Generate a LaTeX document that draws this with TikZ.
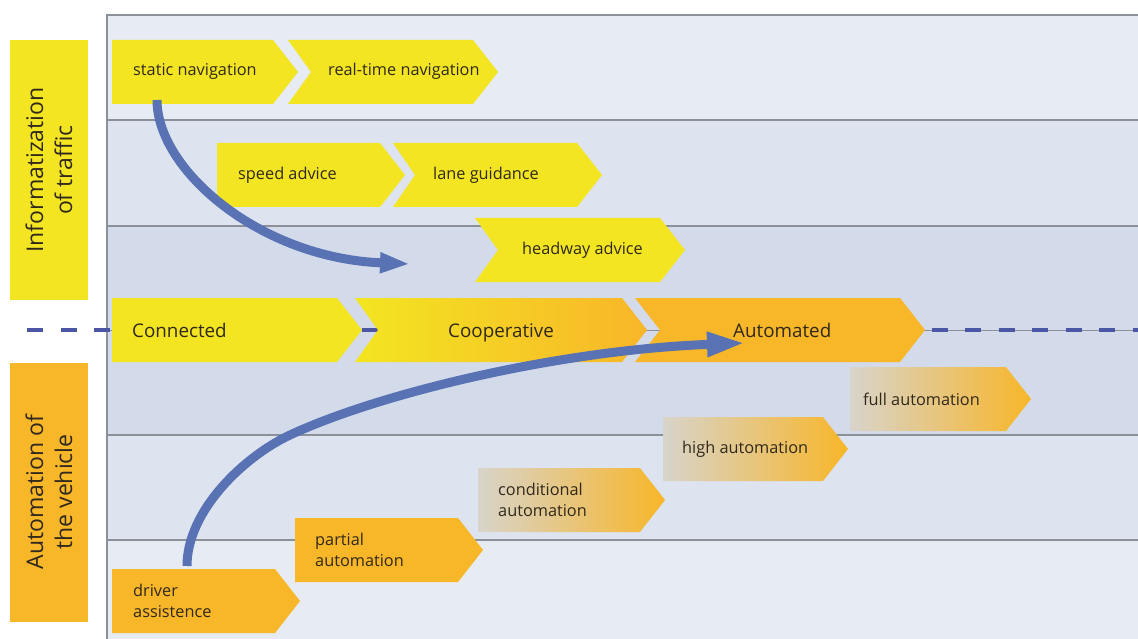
\documentclass[tikz,border=0pt]{standalone}
\usepackage{fontspec}
\setmainfont{Open Sans}
\usepackage{tikz}
\usetikzlibrary{arrows.meta}

\definecolor{bandA}{HTML}{E7EBF4}
\definecolor{bandB}{HTML}{DDE3EF}
\definecolor{bandC}{HTML}{D3DAEA}
\definecolor{rule}{HTML}{8C9099}
\definecolor{chevyellow}{HTML}{F3E521}
\definecolor{chevorange}{HTML}{F8B629}
\definecolor{fadegray}{HTML}{D8D4CB}
\definecolor{fademid}{HTML}{F3BE47}
\definecolor{textdark}{HTML}{30291C}
\definecolor{flowblue}{HTML}{5872B4}
\definecolor{dashblue}{HTML}{4B56A4}

\tikzset{
x=1pt, y=-1pt, % pixel like coordinates, y grows downwards
lbl/.style={anchor=west, inner sep=0pt, align=left, text=textdark, font=\fontsize{16.3}{21}\selectfont},
biglbl/.style={lbl, text height=14pt, text depth=4.5pt, font=\fontsize{18.8}{22}\selectfont},
sidebox/.style={rotate=90, align=center, inner sep=0pt, minimum width=259, minimum height=78, text=textdark, font=\fontsize{23}{29}\selectfont},
yel/.style={fill=chevyellow},
org/.style={fill=chevorange},
yelorg/.style={left color=chevyellow, right color=chevorange},
fadeorg/.style={left color=fadegray, middle color=fademid, right color=chevorange},
flow/.style={draw=flowblue, line width=9pt},
}

% chevron: style, left x, top y, x where the tip starts, notch depth
\newcommand{\chev}[5]{%
  \path[#1] (#2,#3) -- (#4,#3) -- (#4+25,#3+32) -- (#4,#3+64) -- (#2,#3+64) -- (#2+#5,#3+32) -- cycle;
}

\begin{document}
\begin{tikzpicture}
    \useasboundingbox (0,0) rectangle (1138,639);

    % bands
    \fill[bandA] (107,15) rectangle (1138,120);
    \fill[bandB] (107,120) rectangle (1138,226);
    \fill[bandC] (107,226) rectangle (1138,435);
    \fill[bandB] (107,435) rectangle (1138,540);
    \fill[bandA] (107,540) rectangle (1138,639);
    \draw[rule, line width=1.5pt] (1138,15) -- (107,15) -- (107,639);
    \foreach \y in {120,226,435,540}
        \draw[rule, line width=1.5pt] (107,\y) -- (1138,\y);

    % side labels
    \node[sidebox, fill=chevyellow] (info) at (49,170) {Informatization\\of traffic};
    \node[sidebox, fill=chevorange] (auto) at (49,492) {Automation of\\the vehicle};

    % divider
    \draw[rule, line width=1pt] (107,330) -- (1138,330);
    \draw[dashblue, line width=4pt, dash pattern=on 16pt off 17.5pt] (27,330) -- (1138,330);

    % chevrons
    \chev{yel}{112}{40}{273}{0}
    \chev{yel}{288}{40}{473}{23}
    \chev{yel}{217}{143}{380}{0}
    \chev{yel}{393}{143}{577}{22}
    \chev{yel}{475}{218}{660}{23}
    \chev{yel}{112}{298}{337}{0}
    \chev{yelorg}{355}{298}{622}{23}
    \chev{org}{635}{298}{900}{25}
    \chev{fadeorg}{850}{367}{1006}{0}
    \chev{fadeorg}{663}{417}{823}{0}
    \chev{fadeorg}{478}{468}{640}{0}
    \chev{org}{295}{518}{458}{0}
    \chev{org}{112}{569}{275}{0}

    \node[lbl] (statnav) at (133,71) {static navigation};
    \node[lbl] (rtnav) at (328,71) {real-time navigation};
    \node[lbl] (speed) at (238,175) {speed advice};
    \node[lbl] (lane) at (433,175) {lane guidance};
    \node[lbl] (headway) at (522,250) {headway advice};
    \node[biglbl] (conn) at (132,332.5) {Connected};
    \node[biglbl] (coop) at (448,332.5) {Cooperative};
    \node[biglbl] (autom) at (733,332.5) {Automated};
    \node[lbl] (fullaut) at (863,399) {full automation};
    \node[lbl] (highaut) at (682,449) {high automation};
    \node[lbl] (condaut) at (498,500) {conditional\\automation};
    \node[lbl] (partaut) at (315,550) {partial\\automation};
    \node[lbl] (drvass) at (133,601) {driver\\assistence};

    % the two development paths
    \coordinate (nav0) at (157,100);
    \coordinate (hw0) at (410,264);
    \coordinate (drv0) at (187,566);
    \coordinate (aut0) at (745,343);
    \draw[flow, -{Triangle[length=30pt,width=19pt]}] (nav0) .. controls (157,170) and (260,258) .. (hw0);
    \draw[flow, -{Triangle[length=38pt,width=23pt]}] (drv0) .. controls (187,510) and (245,456) .. (290,435)
        .. controls (380,393) and (560,350) .. (aut0);
\end{tikzpicture}
\end{document}
